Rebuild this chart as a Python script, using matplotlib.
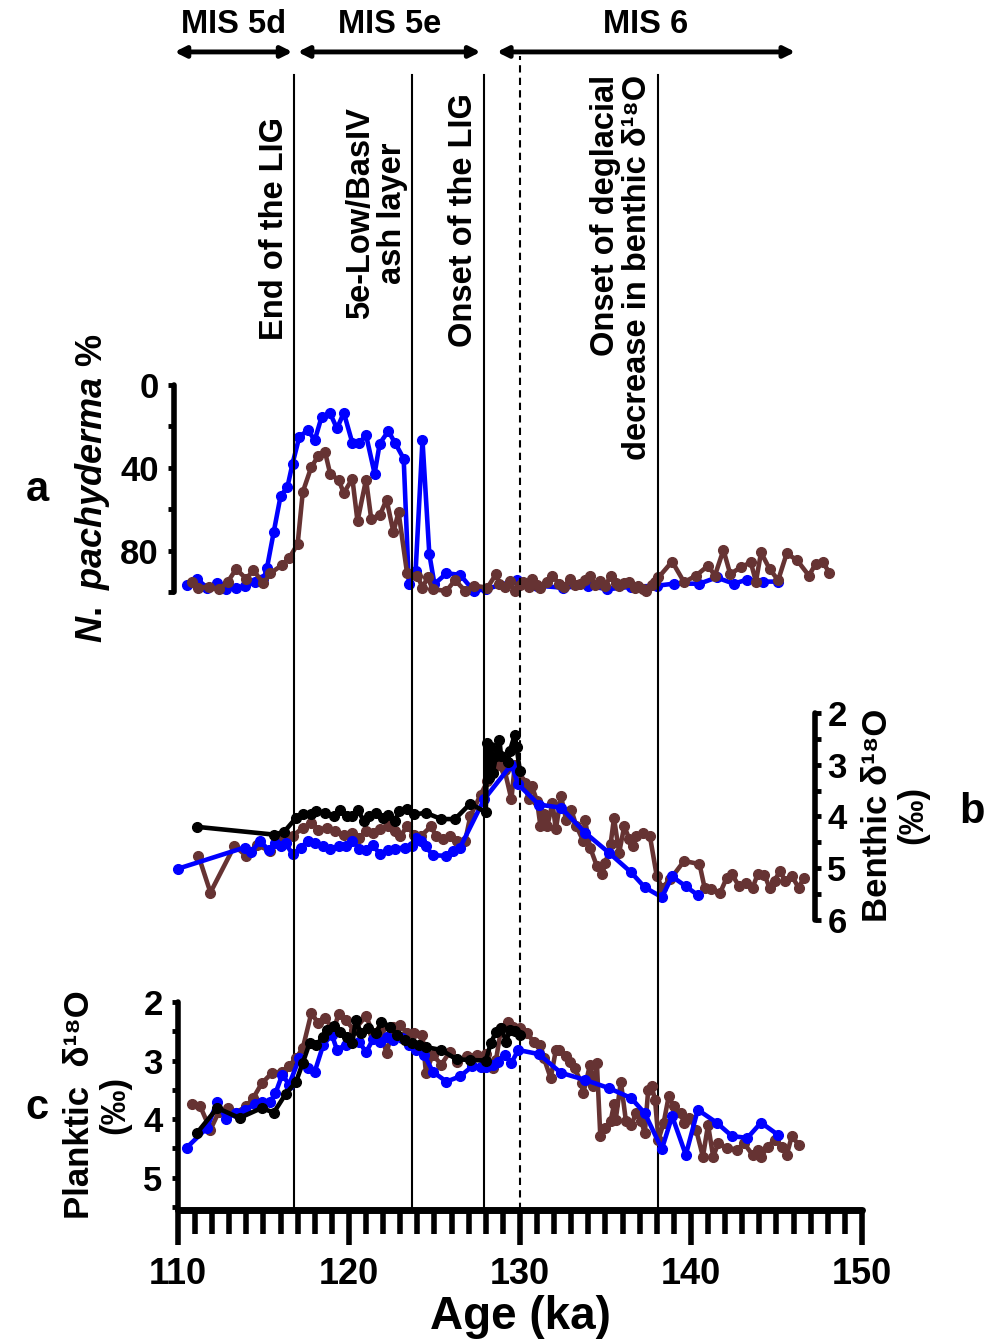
import matplotlib
matplotlib.use("Agg")
import matplotlib.pyplot as plt
import matplotlib.transforms as mtransforms
from matplotlib.ticker import MultipleLocator, FixedLocator

plt.rcParams['font.family'] = ['Liberation Sans', 'DejaVu Sans']
plt.rcParams['font.weight'] = 'bold'
plt.rcParams['mathtext.fontset'] = 'custom'
plt.rcParams['mathtext.it'] = 'Liberation Sans:italic:bold'
plt.rcParams['mathtext.rm'] = 'Liberation Sans:bold'

# ---- data (ka, value) ----
# panel a: N. pachyderma %
a_blue_age = [110.5, 111.1, 111.7, 112.3, 112.8, 113.4, 113.9, 114.5, 115.0, 115.2, 115.6, 116.0, 116.4,
              116.7, 117.1, 117.6, 118.0, 118.4, 118.9, 119.3, 119.7, 120.2, 120.6, 121.0, 121.5, 121.8,
              122.3, 122.7, 123.2, 123.5, 123.9, 124.3, 124.7, 125.0, 125.7, 126.5, 127.3, 128.0, 129.8,
              131.0, 132.5, 134.0, 135.1, 136.5, 138.0, 139.0, 140.5, 141.5, 142.5, 143.3, 144.2, 145.1]
a_blue_val = [96.8, 93.7, 97.9, 95.6, 98.7, 98.2, 97.0, 95.0, 93.7, 88.6, 71.1, 53.7, 49.3,
              38.0, 25.0, 21.8, 26.7, 15.4, 13.7, 21.0, 13.4, 28.0, 28.0, 24.2, 42.8, 28.3,
              22.3, 28.0, 35.6, 96.2, 89.7, 26.7, 81.7, 96.2, 91.0, 91.7, 99.5, 98.7, 94.3,
              97.0, 97.9, 97.0, 98.7, 97.5, 97.0, 96.0, 96.0, 93.0, 96.0, 94.0, 95.0, 95.0]

a_brown_age = [110.8, 111.2, 111.8, 112.4, 112.9, 113.4, 114.0, 114.4, 115.0, 115.4, 116.1, 116.5, 117.0,
               117.3, 117.8, 118.2, 118.6, 118.9, 119.4, 119.7, 120.2, 120.5, 121.0, 121.3, 121.8, 122.2,
               122.6, 122.9, 123.4, 124.0, 124.3, 124.6, 124.9, 125.7, 126.2, 126.8, 127.3, 128.1, 128.6,
               128.8, 129.1, 129.4, 129.7, 130.0, 130.2, 130.5, 130.7, 131.0, 131.2, 131.6, 131.9, 132.3,
               132.6, 132.9, 133.2, 133.5, 133.8, 134.1, 134.4, 134.7, 135.0, 135.3, 135.6, 135.8, 136.1,
               136.4, 136.7, 136.9, 137.2, 137.4, 137.7, 137.9, 138.1, 138.9, 139.6, 140.3, 141.0, 141.4,
               141.9, 142.3, 142.9, 143.5, 143.8, 144.1, 144.6, 145.1, 145.6, 146.2, 146.9, 147.3, 147.7, 148.1]
a_brown_val = [95.3, 97.9, 97.6, 98.7, 95.3, 88.9, 93.7, 89.4, 95.9, 91.0, 86.9, 83.7, 76.8,
               51.7, 39.6, 34.4, 32.3, 42.8, 46.0, 52.2, 45.2, 65.8, 45.7, 64.6, 63.0, 55.4,
               71.1, 61.4, 91.0, 92.1, 97.9, 93.0, 98.7, 99.5, 94.3, 99.5, 97.0, 97.9, 91.4,
               96.2, 97.5, 94.5, 99.5, 96.5, 95.3, 97.8, 93.7, 96.8, 97.9, 95.0, 92.1, 96.2,
               97.5, 93.7, 96.5, 96.2, 94.0, 92.1, 96.8, 94.5, 97.2, 92.1, 95.5, 97.0, 95.8,
               95.3, 98.0, 97.0, 98.5, 99.5, 96.5, 95.3, 93.0, 85.3, 95.3, 92.1, 87.3, 92.1,
               79.7, 91.4, 88.1, 85.7, 95.0, 80.9, 88.9, 94.3, 81.4, 84.6, 92.1, 86.3, 85.7, 90.6]

# panel b: benthic d18O
b_black_age = [111.1, 115.6, 116.2, 116.9, 117.3, 117.8, 118.1, 118.6, 119.1, 119.5, 119.9, 120.2, 120.5,
               120.9, 121.2, 121.6, 122.0, 122.3, 122.7, 122.9, 123.4, 123.8, 124.5, 125.4, 126.2, 127.1,
               128.0, 128.1, 128.2, 128.3, 128.4, 128.6, 128.8, 128.9, 129.3, 129.4, 129.7, 129.8, 130.0]
b_black_val = [4.20, 4.35, 4.30, 4.03, 3.95, 3.96, 3.90, 3.93, 3.99, 3.87, 3.99, 3.99, 3.88,
               4.09, 3.99, 3.94, 4.03, 3.98, 4.09, 3.90, 3.85, 3.96, 3.93, 4.05, 4.05, 3.75,
               3.92, 2.58, 3.25, 2.65, 3.16, 2.84, 2.52, 2.84, 2.94, 2.74, 2.42, 2.65, 3.13]

b_brown_age = [111.2, 111.9, 113.3, 114.0, 114.6, 115.4, 116.0, 116.7, 117.3, 117.8, 118.2, 118.7, 119.2,
               119.7, 120.2, 120.6, 121.0, 121.4, 121.8, 122.3, 122.7, 123.0, 123.4, 123.8, 124.2, 124.8,
               125.1, 125.5, 125.9, 126.3, 126.8, 127.1, 127.7, 128.1, 128.6, 128.8, 129.1, 129.5, 129.7,
               130.0, 130.3, 130.5, 130.7, 131.0, 131.2, 131.4, 131.6, 131.9, 132.1, 132.4, 132.7, 133.0,
               133.3, 133.7, 133.8, 134.1, 134.5, 134.8, 135.0, 135.3, 135.5, 135.8, 136.1, 136.4, 136.6,
               136.8, 137.2, 137.6, 138.0, 138.3, 138.8, 139.6, 140.5, 140.8, 141.2, 141.7, 142.1, 142.4,
               142.8, 143.2, 143.6, 143.9, 144.3, 144.6, 144.9, 145.2, 145.5, 145.9, 146.3, 146.6]
b_brown_val = [4.76, 5.47, 4.57, 4.76, 4.55, 4.67, 4.44, 4.38, 4.22, 4.12, 4.26, 4.22, 4.28,
               4.35, 4.31, 4.41, 4.28, 4.31, 4.25, 4.19, 4.28, 4.38, 4.19, 4.35, 4.38, 4.19,
               4.38, 4.44, 4.38, 4.47, 4.47, 3.99, 3.58, 3.32, 3.03, 2.90, 3.10, 3.67, 3.00,
               3.29, 3.35, 3.67, 3.42, 3.70, 4.19, 3.95, 4.19, 3.74, 4.25, 3.61, 4.06, 3.87,
               4.19, 4.47, 4.06, 4.60, 4.96, 5.12, 4.90, 4.54, 4.03, 4.70, 4.19, 4.44, 4.57,
               4.38, 4.31, 4.38, 5.15, 5.38, 5.21, 4.86, 4.92, 5.38, 5.40, 5.48, 5.18, 5.12,
               5.34, 5.28, 5.38, 5.12, 5.13, 5.38, 5.24, 5.05, 5.24, 5.15, 5.38, 5.18]

b_blue_age = [110.0, 113.9, 114.3, 114.8, 115.3, 115.7, 116.0, 116.3, 116.7, 117.2, 117.6, 118.0, 118.5,
              118.9, 119.4, 119.8, 120.2, 120.6, 121.0, 121.4, 121.8, 122.3, 122.7, 123.3, 123.7, 123.9,
              124.2, 124.5, 124.9, 125.7, 126.1, 126.5, 127.9, 129.5, 129.9, 131.1, 132.4, 133.8, 135.2,
              136.5, 137.3, 138.3, 138.9, 139.7, 140.4]
b_blue_val = [5.01, 4.60, 4.68, 4.47, 4.65, 4.51, 4.58, 4.52, 4.73, 4.60, 4.47, 4.52, 4.57,
              4.62, 4.58, 4.58, 4.47, 4.62, 4.65, 4.55, 4.73, 4.65, 4.62, 4.60, 4.58, 4.41,
              4.48, 4.58, 4.75, 4.76, 4.66, 4.60, 3.67, 3.00, 3.38, 3.77, 3.83, 4.31, 4.70,
              5.08, 5.37, 5.56, 5.16, 5.35, 5.52]

# panel c: planktic d18O
c_blue_age = [110.5, 111.7, 112.3, 112.8, 113.4, 113.9, 114.5, 114.9, 115.4, 115.7, 116.1, 116.5, 117.1,
              117.6, 118.0, 118.5, 119.0, 119.3, 119.8, 120.6, 121.0, 121.4, 121.8, 122.2, 122.6, 123.1,
              123.5, 123.9, 124.4, 124.9, 125.7, 126.5, 127.2, 127.7, 128.0, 128.4, 128.7, 129.1, 129.5,
              129.9, 131.1, 132.4, 133.8, 135.2, 136.5, 137.3, 138.3, 138.9, 139.7, 140.4, 141.5, 142.4,
              143.3, 144.1, 145.1]
c_blue_val = [4.49, 4.15, 3.70, 4.00, 3.89, 3.84, 3.75, 3.70, 3.70, 3.56, 3.24, 3.41, 2.96,
              3.13, 3.19, 2.73, 2.56, 2.82, 2.73, 2.68, 2.86, 2.64, 2.68, 2.59, 2.65, 2.62,
              2.73, 2.82, 2.90, 3.19, 3.36, 3.27, 3.10, 3.11, 3.11, 3.07, 3.02, 2.90, 3.04,
              2.82, 2.89, 3.21, 3.33, 3.47, 3.64, 3.90, 4.51, 3.95, 4.61, 3.84, 4.06, 4.29,
              4.32, 4.06, 4.27]

c_black_age = [111.1, 112.3, 113.6, 114.9, 115.6, 116.3, 116.9, 117.3, 117.7, 118.1, 118.5, 118.7, 119.1,
               119.5, 119.9, 120.2, 120.4, 120.7, 121.1, 121.6, 121.9, 122.4, 122.8, 123.3, 123.7, 124.1,
               124.5, 125.4, 126.3, 127.1, 128.0, 128.3, 128.6, 128.9, 129.2, 129.4, 129.7, 130.0]
c_black_val = [4.24, 3.81, 3.98, 3.81, 3.89, 3.57, 3.37, 3.04, 2.70, 2.73, 2.59, 2.48, 2.41,
               2.51, 2.59, 2.70, 2.31, 2.53, 2.45, 2.53, 2.34, 2.42, 2.56, 2.65, 2.70, 2.73,
               2.77, 2.82, 2.98, 2.99, 3.00, 2.70, 2.51, 2.45, 2.68, 2.48, 2.50, 2.56]

c_brown_age = [110.8, 111.3, 111.9, 112.4, 112.9, 113.4, 114.0, 114.4, 114.9, 115.5, 116.1, 116.5, 116.9,
               117.3, 117.8, 118.2, 118.6, 119.1, 119.4, 119.8, 120.3, 121.0, 121.4, 121.8, 122.2, 122.6,
               123.0, 123.4, 123.8, 124.3, 124.5, 124.9, 125.4, 125.9, 126.3, 126.9, 127.5, 128.0, 128.4,
               128.6, 128.9, 129.3, 129.6, 130.0, 130.4, 130.8, 131.2, 131.4, 131.8, 132.1, 132.3, 132.7,
               132.9, 133.2, 133.6, 133.7, 134.1, 134.3, 134.5, 134.7, 135.0, 135.3, 135.5, 135.6, 135.9,
               136.2, 136.5, 136.8, 137.1, 137.3, 137.5, 137.7, 137.9, 138.1, 138.4, 138.7, 139.0, 139.4,
               139.6, 139.9, 140.3, 140.7, 141.0, 141.3, 141.6, 142.1, 142.7, 143.1, 143.6, 143.9, 144.1,
               144.5, 144.9, 145.3, 145.6, 145.9, 146.3]
c_brown_val = [3.75, 3.78, 4.18, 3.87, 3.81, 3.89, 3.78, 3.64, 3.39, 3.21, 3.20, 3.09, 2.96,
               2.79, 2.19, 2.36, 2.28, 2.48, 2.20, 2.31, 2.48, 2.24, 2.53, 2.48, 2.87, 2.42,
               2.39, 2.53, 2.53, 2.56, 3.21, 2.90, 3.07, 2.85, 3.02, 2.93, 2.90, 2.89, 3.13,
               2.99, 2.45, 2.34, 2.42, 2.45, 2.53, 2.68, 2.73, 2.96, 3.30, 2.82, 2.82, 2.93,
               3.02, 3.13, 3.39, 3.56, 3.07, 3.44, 3.05, 4.29, 4.15, 4.04, 3.75, 4.01, 3.36,
               4.04, 4.10, 3.90, 4.04, 4.24, 3.50, 3.44, 3.67, 4.35, 4.07, 3.61, 3.78, 3.90,
               4.07, 3.98, 4.18, 4.64, 4.10, 4.64, 4.41, 4.49, 4.52, 4.41, 4.61, 4.52, 4.64,
               4.47, 4.35, 4.47, 4.61, 4.29, 4.44]

# events / stages (ka)
event_ages = [116.8, 123.7, 127.9, 138.1]
dashed_age = 130.0
mis_names = ["MIS 5d", "MIS 5e", "MIS 6"]
mis_start = [109.8, 117.0, 128.65]
mis_end = [116.7, 127.7, 146.1]

BLUE = "#0000ff"
BROWN = "#663333"
LW = 3.3
MS = 7

fig = plt.figure(figsize=(9.87, 13.42), dpi=100)
L, W = 0.1803, 0.6930
ax_a = fig.add_axes([L, 0.5589, W, 0.1542])
ax_b = fig.add_axes([L, 0.3145, W, 0.1542])
ax_c = fig.add_axes([L, 0.0984, W, 0.1550])

for ax in (ax_a, ax_b, ax_c):
    ax.set_xlim(110, 150)
    ax.patch.set_visible(False)
    for s in ax.spines.values():
        s.set_visible(False)
        s.set_linewidth(4)
        s.set_capstyle('round')
    ax.tick_params(labelsize=25, width=3.5, length=4, pad=7)
    ax.tick_params(which='minor', width=3.5, length=4)

def series(ax, x, y, color, z):
    ax.plot(x, y, '-o', color=color, lw=LW, ms=MS, zorder=z, clip_on=False)

# panel a
series(ax_a, a_blue_age, a_blue_val, BLUE, 3)
series(ax_a, a_brown_age, a_brown_val, BROWN, 4)
ax_a.set_ylim(100, 0)
ax_a.spines['left'].set_visible(True)
ax_a.spines['left'].set_position(('outward', 3))
ax_a.yaxis.set_major_locator(FixedLocator([0, 40, 80]))
ax_a.yaxis.set_minor_locator(FixedLocator([20, 60, 100]))
ax_a.set_xticks([])

# panel b
series(ax_b, b_brown_age, b_brown_val, BROWN, 3)
series(ax_b, b_blue_age, b_blue_val, BLUE, 4)
series(ax_b, b_black_age, b_black_val, 'black', 5)
ax_b.set_ylim(6, 2)
ax_b.spines['right'].set_visible(True)
ax_b.spines['right'].set_position(('data', 147.25))
ax_b.yaxis.tick_right()
ax_b.yaxis.set_major_locator(MultipleLocator(1))
ax_b.yaxis.set_minor_locator(MultipleLocator(0.5))
ax_b.tick_params(axis='y', pad=5)
ax_b.set_xticks([])

# panel c
series(ax_c, c_brown_age, c_brown_val, BROWN, 3)
series(ax_c, c_blue_age, c_blue_val, BLUE, 4)
series(ax_c, c_black_age, c_black_val, 'black', 5)
ax_c.set_ylim(5.55, 2)
ax_c.spines['left'].set_visible(True)
ax_c.spines['bottom'].set_visible(True)
ax_c.spines['bottom'].set_linewidth(5)
ax_c.yaxis.set_major_locator(MultipleLocator(1))
ax_c.yaxis.set_minor_locator(MultipleLocator(0.5))
ax_c.xaxis.set_major_locator(MultipleLocator(10))
ax_c.xaxis.set_minor_locator(MultipleLocator(1))
ax_c.tick_params(axis='x', which='major', length=25, width=4, pad=9, labelsize=26)
ax_c.tick_params(axis='x', which='minor', length=17, width=4)
ax_c.set_xlabel("Age (ka)", fontsize=33, fontweight='bold', labelpad=2)

# event lines through all panels
trans = mtransforms.blended_transform_factory(ax_c.transData, fig.transFigure)
for age in event_ages:
    ax_c.plot([age, age], [0.0984, 0.944], transform=trans, color='black', lw=1.5,
              clip_on=False, zorder=1)
ax_c.plot([dashed_age, dashed_age], [0.0984, 0.958], transform=trans, color='black', lw=1.5,
          ls=(0, (3.5, 2.5)), clip_on=False, zorder=1)

# MIS arrows
for name, x0, x1 in zip(mis_names, mis_start, mis_end):
    ax_c.annotate('', xy=(x1, 0.9613), xytext=(x0, 0.9613), xycoords=trans, textcoords=trans,
                  arrowprops=dict(arrowstyle='<|-|>', lw=3.5, color='black', mutation_scale=16,
                                  shrinkA=0, shrinkB=0), annotation_clip=False)
    ax_c.text((x0 + x1) / 2, 0.9814, name, transform=trans, ha='center', va='center',
              fontsize=23.5, fontweight='bold')

# event labels
lab = dict(transform=trans, rotation=90, fontsize=23.5, fontweight='bold')
ax_c.text(115.67, 0.7466, "End of the LIG", ha='center', va='bottom', **lab)
ax_c.text(121.6, 0.8413, "5e-Low/BasIV\nash layer", ha='center', va='center',
          multialignment='center', linespacing=1.05, **lab)
ax_c.text(126.67, 0.7414, "Onset of the LIG", ha='center', va='bottom', **lab)
ax_c.text(135.96, 0.6572, "Onset of deglacial\ndecrease in benthic \u03b4\u00b9\u2078O", ha='center',
          va='bottom', multialignment='right', linespacing=1.05, **lab)

# axis titles and panel letters
fig.text(93 / 987, 1 - 488 / 1342, r"$\mathit{N.\ pachyderma}$ %", rotation=90,
         ha='center', va='center', fontsize=26, fontweight='bold')
fig.text(895 / 987, 1 - 815 / 1342, "Benthic \u03b4\u00b9\u2078O\n(\u2030)", rotation=90,
         ha='center', va='center', fontsize=25, fontweight='bold', linespacing=1.1)
fig.text(97 / 987, 1 - 1105 / 1342, "Planktic  \u03b4\u00b9\u2078O\n(\u2030)", rotation=90,
         ha='center', va='center', fontsize=25, fontweight='bold', linespacing=1.1)
fig.text(37 / 987, 1 - 490 / 1342, "a", ha='center', va='center', fontsize=30, fontweight='bold')
fig.text(972 / 987, 1 - 812 / 1342, "b", ha='center', va='center', fontsize=30, fontweight='bold')
fig.text(37 / 987, 1 - 1108 / 1342, "c", ha='center', va='center', fontsize=30, fontweight='bold')

fig.savefig("out.png", dpi=100)
